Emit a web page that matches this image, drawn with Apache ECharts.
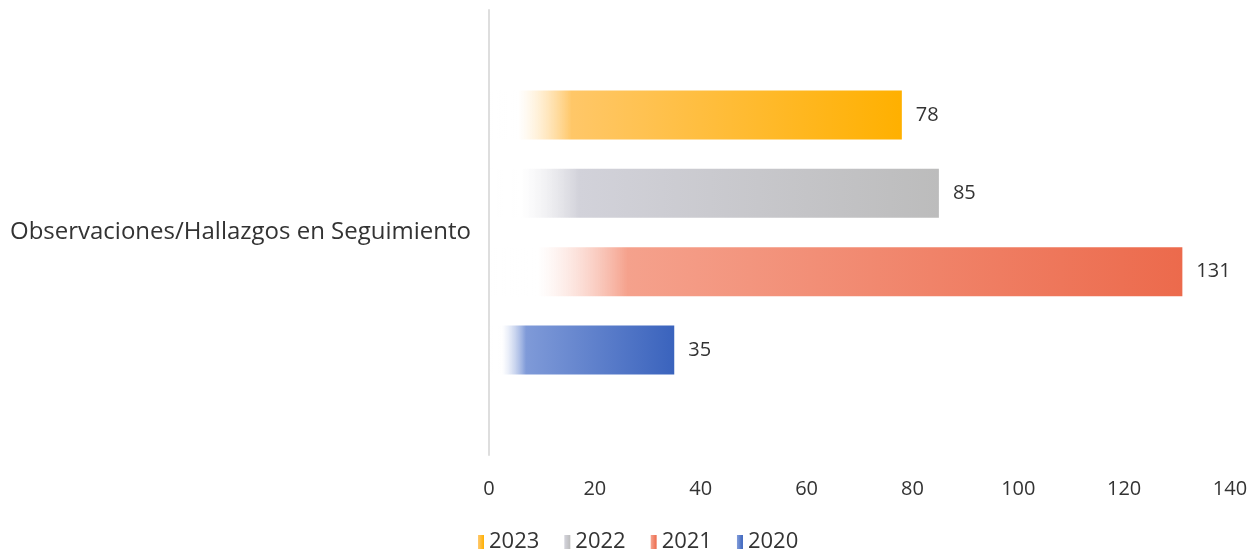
<!DOCTYPE html>
<html><head><meta charset="utf-8">
<script src="https://cdn.jsdelivr.net/npm/echarts@6/dist/echarts.min.js"></script>
<style>html,body{margin:0;padding:0;background:#fff}#c{width:1252px;height:551px}</style>
</head><body><div id="c"></div>
<script>
const categories = ['Observaciones/Hallazgos en Seguimiento'];
const years = ['2023', '2022', '2021', '2020'];
const values2020 = [35];
const values2021 = [131];
const values2022 = [85];
const values2023 = [78];
const xTicks = [0, 20, 40, 60, 80, 100, 120, 140];
const colors = {'2020': '#3a63bd', '2021': '#ec6a4c', '2022': '#bcbcbc', '2023': '#ffb000'};
const light = {'2020': '#7f9ad8', '2021': '#f5a18c', '2022': '#d2d2da', '2023': '#ffc768'};
const dataMap = {'2020': values2020, '2021': values2021, '2022': values2022, '2023': values2023};

function grad(y){
  return new echarts.graphic.LinearGradient(0,0,1,0,[
    {offset:0, color:'rgba(255,255,255,0)'},
    {offset:0.07, color:'rgba(255,255,255,0.5)'},
    {offset:0.2, color: light[y]},
    {offset:1, color: colors[y]}
  ]);
}
const chart = echarts.init(document.getElementById('c'));
const font = '"Open Sans", Lato, sans-serif';
chart.setOption({
  animation:false,
  grid:{left:489, right:22, top:10, bottom:96},
  legend:{
    data:['2023','2022','2021','2020'],
    left:472, top:526, itemWidth:7, itemHeight:14, itemGap:24,
    icon:'rect',
    textStyle:{fontSize:22, color:'#333', fontFamily:font}
  },
  xAxis:{type:'value', min:0, max:140, interval:20,
    axisLine:{show:false}, axisTick:{show:false}, splitLine:{show:false},
    axisLabel:{fontSize:20, color:'#333', fontFamily:font, margin:24}
  },
  yAxis:{type:'category', data:categories,
    axisLine:{show:true, lineStyle:{color:'#dedede', width:2}}, axisTick:{show:false},
    axisLabel:{fontSize:24, color:'#333', fontFamily:font, margin:18}
  },
  series: years.map(y => ({
    name:y, type:'bar', data:dataMap[y], barWidth:49, barGap:'60%', barCategoryGap:'36%',
    color: colors[y],
    itemStyle:{color: grad(y)},
    label:{show:true, position:'right', distance:14, fontSize:20, color:'#333', fontFamily:font}
  }))
});
</script></body></html>
